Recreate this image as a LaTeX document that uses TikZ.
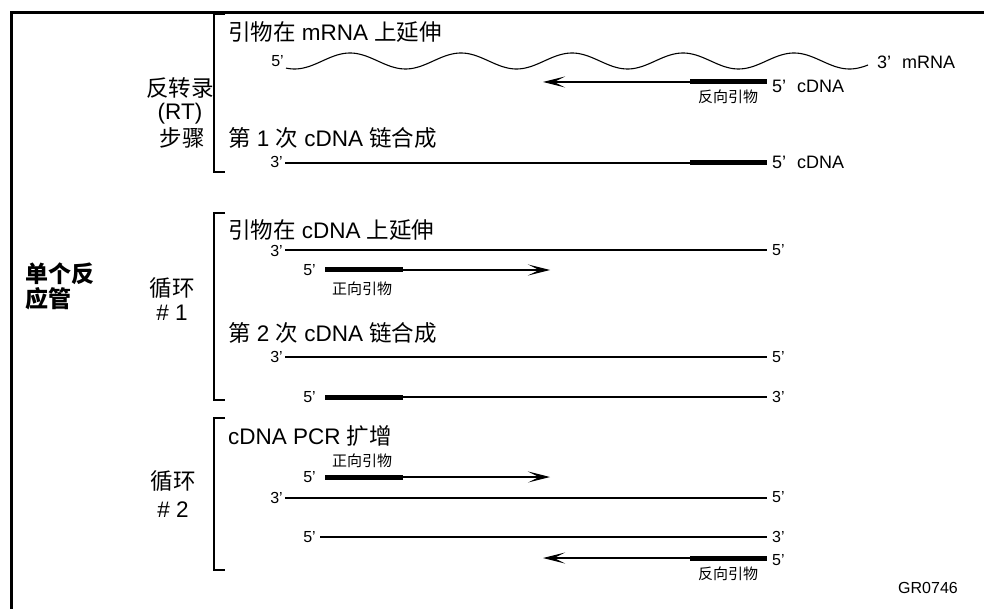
\documentclass[tikz,border=0pt]{standalone}
\usepackage{fontspec}
\setmainfont{Liberation Sans}
\newfontfamily\zh{Noto Sans CJK SC}
\usetikzlibrary{arrows.meta}
\begin{document}
\begin{tikzpicture}[x=1pt,y=-1pt,
  frame/.style={line width=3pt},
  strand/.style={line width=1.1pt},
  primerbar/.style={line width=5pt},
  bracketline/.style={line width=2.5pt},
  arr/.style={strand,-{Stealth[length=22pt,width=11pt,inset=11pt]}},
  endlbl/.style={font=\fontsize{16}{19}\selectfont, inner sep=0pt},
  sidelbl/.style={font=\fontsize{18}{21}\selectfont, inner sep=0pt, anchor=west},
  head/.style={font=\fontsize{22.5}{26}\selectfont, anchor=west, inner sep=0pt},
  steplbl/.style={font=\fontsize{22.5}{26}\selectfont, inner sep=0pt},
  boldlbl/.style={font=\fontsize{23}{26}\selectfont\bfseries, anchor=west, inner sep=0pt},
  primlbl/.style={font=\fontsize{15}{18}\selectfont\zh, inner sep=0pt}
]
\useasboundingbox (0,0) rectangle (984,609);
% outer frame
\draw[frame] (11,609) -- (11,13) -- (984,13);

% brackets
\draw[bracketline] (225,14) -- (214,14) -- (214,172) -- (225,172);
\draw[bracketline] (225,213) -- (214,213) -- (214,400) -- (225,400);
\draw[bracketline] (225,418) -- (214,418) -- (214,570) -- (225,570);

% left labels
\node[boldlbl] (tube1) at (25,274) {{\zh 单个反}};
\node[boldlbl] (tube2) at (25,299) {{\zh 应管}};
\node[steplbl] (rt1) at (180,88) {{\zh 反转录}};
\node[steplbl] (rt2) at (180,114) {(RT)};
\node[steplbl] (rt3) at (182,138) {{\zh 步骤}};
\node[steplbl] (c1a) at (172,288) {{\zh 循环}};
\node[steplbl] (c1b) at (172,313) {\# 1};
\node[steplbl] (c2a) at (173,481) {{\zh 循环}};
\node[steplbl] (c2b) at (173,510) {\# 2};

% headings
\node[head] (h1) at (228,32) {{\zh 引物在} mRNA {\zh 上延伸}};
\node[head] (h2) at (228,138) {{\zh 第} 1 {\zh 次} cDNA {\zh 链合成}};
\node[head] (h3) at (228,230) {{\zh 引物在} cDNA {\zh 上延伸}};
\node[head] (h4) at (228,333) {{\zh 第} 2 {\zh 次} cDNA {\zh 链合成}};
\node[head] (h5) at (228,436) {cDNA PCR {\zh 扩增}};

% ---------- RT step ----------
\coordinate (w0) at (286,61);
\coordinate (w1) at (868,61);
\node[endlbl, anchor=east] (w5) at (284,61) {5’};
\draw[strand] plot[domain=286:868, samples=240] (\x, {61 + 8*cos(3.24324*(\x-294.5))});
\node[sidelbl] (w3) at (877,62) {3’\hspace{0.6em}mRNA};

\coordinate (a1) at (543,82);
\coordinate (a2) at (690,82);
\coordinate (a3) at (767,82);
\draw[arr] (a2) -- (a1);
\draw[primerbar] (a2) -- (a3);
\node[sidelbl] (a5) at (772,86) {5’\hspace{0.6em}cDNA};
\node[primlbl] (rp1) at (728,97) {反向引物};

\coordinate (b1) at (285,163);
\coordinate (b2) at (690,163);
\coordinate (b3) at (767,163);
\node[endlbl, anchor=east] (b3l) at (283,162) {3’};
\draw[strand] (b1) -- (b2);
\draw[primerbar] (b2) -- (b3);
\node[sidelbl] (b5) at (772,162) {5’\hspace{0.6em}cDNA};

% ---------- Cycle 1 ----------
\coordinate (c1) at (285,250);
\coordinate (c2) at (767,250);
\node[endlbl, anchor=east] (c3l) at (283,251) {3’};
\draw[strand] (c1) -- (c2);
\node[endlbl, anchor=west] (c5r) at (772,250) {5’};

\coordinate (d1) at (325,270);
\coordinate (d2) at (403,270);
\coordinate (d3) at (550,270);
\node[endlbl, anchor=east] (d5l) at (316,270) {5’};
\draw[primerbar] (d1) -- (d2);
\draw[arr] (d2) -- (d3);
\node[primlbl] (fp1) at (362,289) {正向引物};

\coordinate (e1) at (285,357);
\coordinate (e2) at (767,357);
\node[endlbl, anchor=east] (e3l) at (283,357) {3’};
\draw[strand] (e1) -- (e2);
\node[endlbl, anchor=west] (e5r) at (772,357) {5’};

\coordinate (f1) at (325,397);
\coordinate (f2) at (403,397);
\coordinate (f3) at (767,397);
\node[endlbl, anchor=east] (f5l) at (316,397) {5’};
\draw[primerbar] (f1) -- (f2);
\draw[strand] (f2) -- (f3);
\node[endlbl, anchor=west] (f3r) at (772,397) {3’};

% ---------- Cycle 2 ----------
\node[primlbl] (fp2) at (362,461) {正向引物};
\coordinate (g1) at (325,477);
\coordinate (g2) at (403,477);
\coordinate (g3) at (550,477);
\node[endlbl, anchor=east] (g5l) at (316,477) {5’};
\draw[primerbar] (g1) -- (g2);
\draw[arr] (g2) -- (g3);

\coordinate (i1) at (285,498);
\coordinate (i2) at (767,498);
\node[endlbl, anchor=east] (i3l) at (283,498) {3’};
\draw[strand] (i1) -- (i2);
\node[endlbl, anchor=west] (i5r) at (772,497) {5’};

\coordinate (j1) at (320,537);
\coordinate (j2) at (767,537);
\node[endlbl, anchor=east] (j5l) at (316,537) {5’};
\draw[strand] (j1) -- (j2);
\node[endlbl, anchor=west] (j3r) at (772,537) {3’};

\coordinate (k1) at (543,558);
\coordinate (k2) at (690,558);
\coordinate (k3) at (767,558);
\draw[arr] (k2) -- (k1);
\draw[primerbar] (k2) -- (k3);
\node[endlbl, anchor=west] (k5r) at (772,560) {5’};
\node[primlbl] (rp2) at (728,574) {反向引物};

\node[font=\fontsize{16}{19}\selectfont, anchor=west, inner sep=0pt] (gr) at (898,588) {GR0746};
\end{tikzpicture}
\end{document}
